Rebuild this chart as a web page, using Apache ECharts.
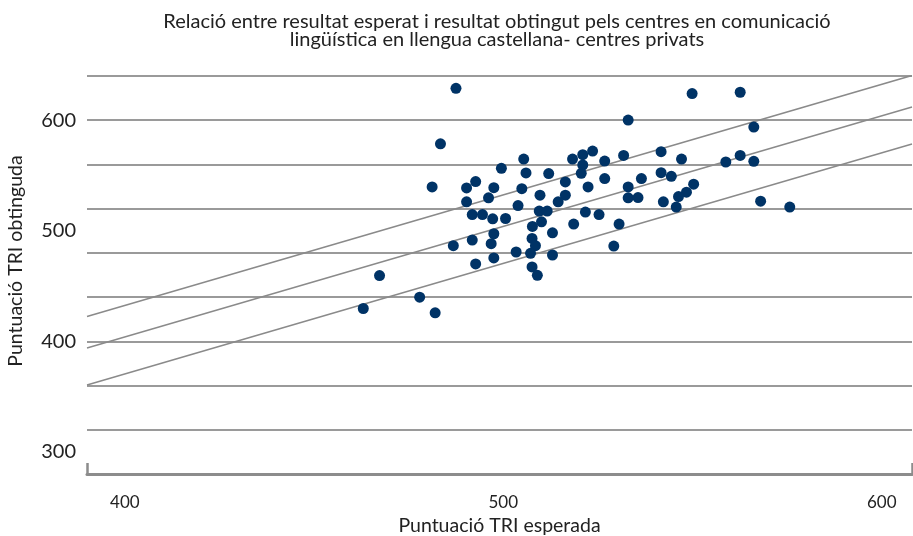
<!DOCTYPE html>
<html>
<head>
<meta charset="utf-8">
<script src="https://cdn.jsdelivr.net/npm/echarts@6/dist/echarts.min.js"></script>
<style>html,body{margin:0;padding:0;background:#fff}#c{width:913px;height:536px}</style>
</head>
<body>
<div id="c"></div>
<script>
// Expected (x) vs obtained (y) TRI scores per centre
const expected = [487.5,533.0,483.4,505.4,518.3,521.0,523.6,526.8,531.8,521.0,520.6,499.5,506.0,512.0,481.2,490.3,492.7,497.5,504.9,516.4,526.8,522.4,533.0,496.1,509.7,516.4,514.5,533.0,490.3,503.9,491.8,494.5,497.2,500.6,509.5,511.6,510.1,507.7,521.7,525.3,518.6,530.6,497.5,491.8,496.8,486.8,507.6,508.5,513.0,503.4,507.2,513.0,529.2,497.5,492.7,507.6,509.0,467.3,477.9,463.0,482.0,549.9,562.6,566.2,541.7,547.1,558.8,562.6,566.2,541.7,544.4,536.5,550.3,548.4,546.3,535.6,542.3,545.7,568.0,575.7];
const obtained = [628.9,600.1,578.7,564.9,564.9,568.8,572.1,563.1,568.2,559.5,552.0,556.5,552.3,551.7,539.7,538.8,544.5,539.0,538.1,544.2,547.2,539.7,539.7,529.8,532.2,532.2,526.2,529.8,526.2,522.8,514.7,514.7,510.8,511.1,517.8,517.8,508.1,503.9,516.9,514.7,506.1,506.1,497.3,491.6,488.3,486.5,493.1,486.5,498.2,480.8,479.6,478.1,486.2,475.4,470.0,467.3,459.7,459.5,439.9,429.7,425.8,624.1,625.3,593.8,571.5,564.9,562.2,568.2,562.8,552.6,549.3,547.2,542.1,534.9,530.9,530.0,526.2,521.4,526.8,521.4];
// Reference lines y = x + offset
const refOffsets = [32.5, 4, -29.5];
const xLabels = [400, 500, 600];
const yLabels = [300, 400, 500, 600];

const X_MIN = 390, X_MAX = 608, Y_MIN = 280, Y_MAX = 640;
const points = expected.map((x, i) => [x, obtained[i]]);
const FONT = 'Lato, "Open Sans", sans-serif';

const lineSeries = refOffsets.map((off, i) => ({
  type: 'line',
  name: 'ref' + i,
  xAxisIndex: 0, yAxisIndex: 0,
  data: [[X_MIN, X_MIN + off], [X_MAX, X_MAX + off]],
  symbol: 'none',
  silent: true,
  clip: true,
  lineStyle: { color: '#8a8a8a', width: 1.5 },
  z: 2
}));

const chart = echarts.init(document.getElementById('c'), null, { renderer: 'canvas' });
chart.setOption({
  animation: false,
  backgroundColor: '#fff',
  title: {
    text: 'Relació entre resultat esperat i resultat obtingut pels centres en comunicació\nlingüística en llengua castellana- centres privats',
    left: 492, top: 7, textAlign: 'center',
    textStyle: { fontFamily: FONT, fontSize: 20, fontWeight: 'normal', color: '#222', lineHeight: 18.5 }
  },
  grid: { left: 87, right: 1, top: 76, bottom: 62, containLabel: false, outerBoundsMode: 'none' },
  xAxis: [
    {
      type: 'value', min: X_MIN, max: X_MAX, interval: X_MAX - X_MIN,
      axisLine: { show: true, lineStyle: { color: '#8c8c8c', width: 3 } },
      axisTick: { show: true, inside: true, length: 11, lineStyle: { color: '#8c8c8c', width: 2.5 } },
      axisLabel: { show: false }, splitLine: { show: false }
    },
    {
      type: 'value', min: X_MIN, max: X_MAX, interval: 10, position: 'bottom',
      axisLine: { show: false }, axisTick: { show: false }, splitLine: { show: false },
      axisLabel: {
        margin: 20, fontFamily: FONT, fontSize: 17, color: '#222',
        formatter: v => xLabels.includes(Math.round(v)) ? String(Math.round(v)) : ''
      },
      name: 'Puntuació TRI esperada', nameLocation: 'middle', nameGap: 37,
      nameTextStyle: { fontFamily: FONT, fontSize: 19.5, color: '#222' }
    }
  ],
  yAxis: [
    {
      type: 'value', min: Y_MIN, max: Y_MAX, interval: 40,
      axisLine: { show: false }, axisTick: { show: false }, axisLabel: { show: false },
      splitLine: { show: true, lineStyle: { color: '#9a9a9a', width: 2 } }
    },
    {
      type: 'value', min: Y_MIN, max: Y_MAX, interval: 20, position: 'left',
      axisLine: { show: false }, axisTick: { show: false }, splitLine: { show: false },
      axisLabel: {
        margin: 11, fontFamily: FONT, fontSize: 20, color: '#222',
        formatter: v => yLabels.includes(Math.round(v)) ? String(Math.round(v)) : ''
      },
      name: 'Puntuació TRI obtinguda', nameLocation: 'middle', nameGap: 61,
      nameTextStyle: { fontFamily: FONT, fontSize: 19.5, color: '#222', padding: [0, 0, 0, 28] }
    }
  ],
  series: [
    ...lineSeries,
    {
      type: 'scatter', name: 'centres', xAxisIndex: 0, yAxisIndex: 0,
      data: points, symbol: 'circle', symbolSize: 11,
      itemStyle: { color: '#003366', opacity: 1 },
      z: 3
    }
  ]
});
</script>
</body>
</html>
